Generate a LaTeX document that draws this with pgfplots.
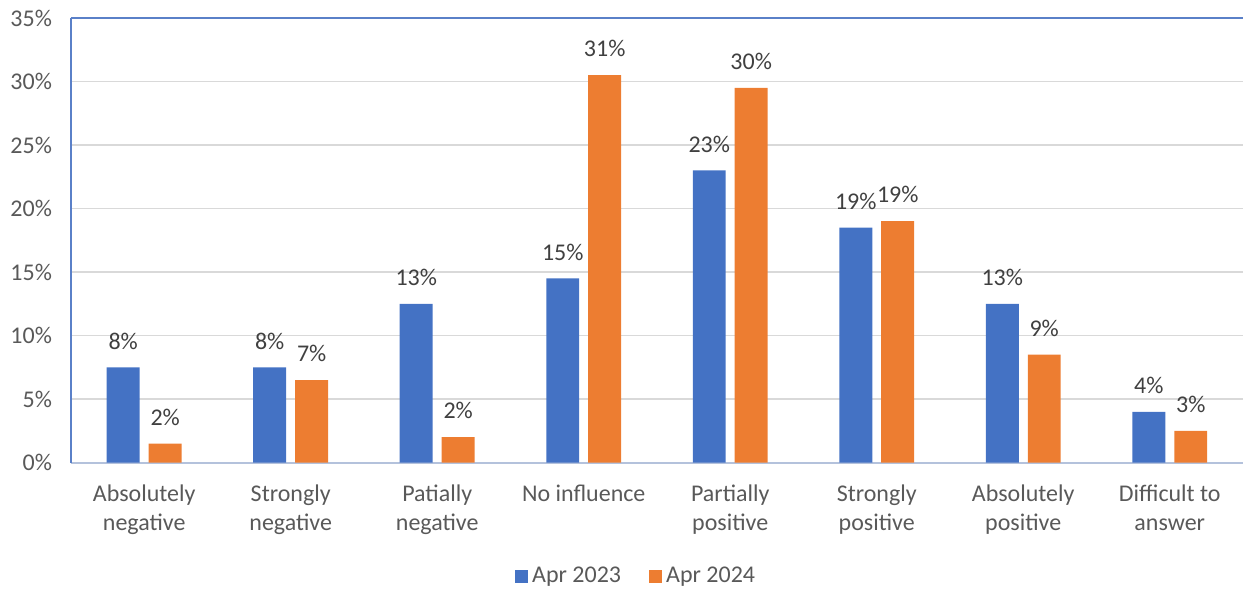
\documentclass[border=0pt]{standalone}
\usepackage{fontspec}
\setmainfont{Carlito}
\usepackage{pgfplots}
\pgfplotsset{compat=1.18}
\usepackage{pgfplotstable}
\definecolor{cblue}{HTML}{4472C4}
\definecolor{corange}{HTML}{ED7D31}
\definecolor{ctext}{HTML}{595959}
\definecolor{clab}{HTML}{404040}
\definecolor{cgrid}{HTML}{D9D9D9}
\definecolor{cleft}{HTML}{5A80C8}
\definecolor{cbottom}{HTML}{B4C2DC}

\pgfplotstableread{
x a alab b blab
0 7.5 8 1.5 2
1 7.5 8 6.5 7
2 12.5 13 2 2
3 14.5 15 30.5 31
4 23 23 29.5 30
5 18.5 19 19 19
6 12.5 13 8.5 9
7 4 4 2.5 3
}\datatab

\begin{document}
\begin{tikzpicture}
\begin{axis}[
  width=586.5pt, height=222.5pt, scale only axis,
  ybar=4.5pt, bar width=16.5pt,
  ymin=0, ymax=35, ytick={0,5,...,35},
  xmin=-0.5, xmax=7.5, xtick={0,...,7},
  xticklabels={{Absolutely\\negative},{Strongly\\negative},{Patially\\negative},{No influence},{Partially\\positive},{Strongly\\positive},{Absolutely\\positive},{Difficult to\\answer}},
  xticklabel style={align=center, font=\fontsize{12}{14.7}\selectfont, text=ctext, yshift=-7.5pt},
  yticklabel={\pgfmathprintnumber{\tick}\%},
  yticklabel style={font=\fontsize{12}{14.5}\selectfont, text=ctext, xshift=-6pt},
  /pgf/number format/assume math mode=true,
  major tick length=0pt,
  ymajorgrids, grid style={cgrid, line width=0.9pt},
  axis x line*=bottom, axis y line*=left,
  x axis line style={cbottom, line width=1pt, -},
  y axis line style={cleft, line width=1pt, -},
  nodes near coords={\pgfplotspointmeta\%},
  point meta=explicit symbolic,
  every node near coord/.append style={font=\fontsize{12}{14.5}\selectfont, text=clab, yshift=5.5pt},
  legend style={draw=none, at={(0.483,0)}, anchor=center, yshift=-57pt, font=\fontsize{12}{14.5}\selectfont, text=ctext, legend columns=2, /tikz/every even column/.append style={column sep=12pt}},
  legend image code/.code={\fill[#1] (0pt,-3.3pt) rectangle (6.6pt,3.3pt);},
]
\addplot[fill=cblue, draw=none] table[x=x, y=a, meta=alab] {\datatab};
\addplot[fill=corange, draw=none] table[x=x, y=b, meta=blab] {\datatab};
\legend{Apr 2023, Apr 2024}
\draw[cleft, line width=1pt] (rel axis cs:0,1) -- (rel axis cs:1,1);
\end{axis}
\path (current axis.south west) ++(-35.5pt,-64.5pt);
\path (current axis.north east) ++(0pt,9pt);
\end{tikzpicture}
\end{document}
